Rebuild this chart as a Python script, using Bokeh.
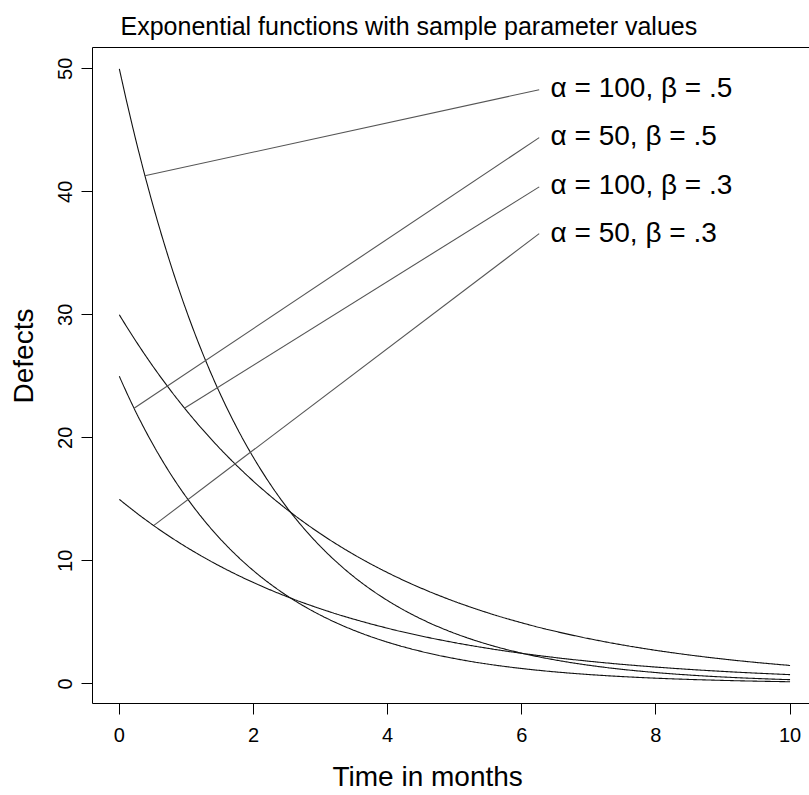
import numpy as np
from bokeh.plotting import figure
from bokeh.models import Range1d, LinearAxis, FixedTicker, Title, ColumnDataSource
from bokeh.core.properties import value
from bokeh.embed import file_html
from bokeh.resources import INLINE

# ---- data ----
alphas = [100, 50, 100, 50]
betas = [0.5, 0.5, 0.3, 0.3]
labels = ["α = 100, β = .5", "α = 50, β = .5", "α = 100, β = .3", "α = 50, β = .3"]
t_grid = np.linspace(0, 10, 601)

leader_t0 = [0.38, 0.22, 0.97, 0.52]
leader_y0 = [41.3, 22.4, 22.4, 12.9]
leader_t1 = [6.26, 6.26, 6.26, 6.26]
leader_y1 = [48.3, 44.4, 40.4, 36.6]
label_t = [6.43, 6.43, 6.43, 6.43]
label_y = [48.5, 44.6, 40.6, 36.7]

x_ticks = [0, 2, 4, 6, 8, 10]
y_ticks = [0, 10, 20, 30, 40, 50]

TITLE = "Exponential functions with sample parameter values"
XLABEL = "Time in months"
YLABEL = "Defects"

FONT = "Liberation Sans"
NBSP = "\u00a0"

p = figure(width=809, height=795, output_backend="svg", toolbar_location=None,
           x_range=Range1d(-0.4, 10.29), y_range=Range1d(-1.6, 51.73),
           min_border_left=92, min_border_right=0, min_border_top=47, min_border_bottom=92,
           title=None)
p.outline_line_color = None
p.grid.visible = False
p.background_fill_color = "white"
p.border_fill_color = "white"

for ax in (p.xaxis[0], p.yaxis[0]):
    ax.major_tick_out = 11
    ax.major_tick_in = 0
    ax.minor_tick_line_color = None
    ax.major_tick_line_color = "black"
    ax.axis_line_color = "black"
    ax.major_label_text_font = FONT
    ax.major_label_text_font_size = "20px"
    ax.major_label_text_color = "black"
    ax.axis_label_text_font = FONT
    ax.axis_label_text_font_size = "28px"
    ax.axis_label_text_font_style = "normal"
    ax.axis_label_text_color = "black"

p.xaxis[0].ticker = FixedTicker(ticks=x_ticks)
p.yaxis[0].ticker = FixedTicker(ticks=y_ticks)
p.xaxis[0].major_label_standoff = 13
p.yaxis[0].major_label_standoff = 9
p.yaxis[0].major_label_orientation = "vertical"
# axis titles are centred a little off the frame centre in the reference
p.xaxis[0].axis_label = XLABEL + NBSP * 6
p.yaxis[0].axis_label = NBSP * 5 + YLABEL
p.xaxis[0].axis_label_standoff = 16
p.yaxis[0].axis_label_standoff = 17

top = LinearAxis(ticker=FixedTicker(ticks=[]), axis_line_color="black",
                 major_tick_line_color=None, minor_tick_line_color=None,
                 major_label_text_font_size="0px")
p.add_layout(top, "above")

p.add_layout(Title(text=TITLE, align="left", offset=28, text_font=FONT,
                   text_font_size="25px", text_font_style="normal",
                   text_color="black", standoff=16), "above")

for a, b in zip(alphas, betas):
    y = a * b * np.exp(-b * t_grid)
    p.line(t_grid, y, line_color="#111111", line_width=1.1)

p.segment(x0=leader_t0, y0=leader_y0, x1=leader_t1, y1=leader_y1,
          line_color="#555555", line_width=1.1)

src = ColumnDataSource(dict(x=label_t, y=label_y, text=labels))
p.text(x="x", y="y", text="text", source=src, text_font=value(FONT),
       text_font_size="28px", text_align="left", text_baseline="middle",
       text_color="black")

open("out.html", "w").write(file_html(p, INLINE))
